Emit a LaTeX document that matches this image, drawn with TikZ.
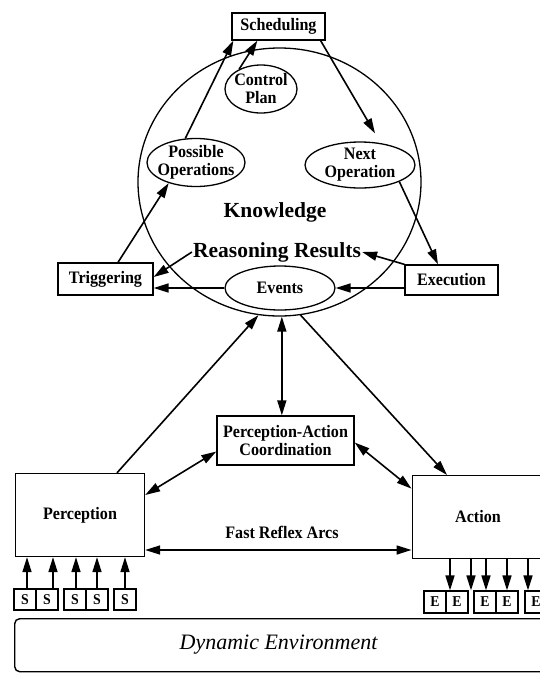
\documentclass[tikz,border=0pt]{standalone}
\usepackage{fontspec}
\setmainfont{Liberation Serif}
\newfontfamily\lblfont[FakeStretch=0.92]{Liberation Serif}
\usetikzlibrary{shapes.geometric,arrows.meta,calc}
\begin{document}
\begin{tikzpicture}[x=1pt,y=-1pt,
  lab/.style={font=\lblfont\fontsize{17.5}{18}\selectfont\bfseries, align=center},
  box/.style={draw, line width=1.3pt, lab, inner sep=0pt},
  oval/.style={draw, ellipse, line width=1.3pt, lab, inner sep=0pt},
  big/.style={font=\fontsize{21.5}{22}\selectfont\bfseries, inner sep=1pt},
  sbox/.style={draw, line width=1.2pt, minimum width=22pt, minimum height=21pt,
    inner sep=0pt, font=\lblfont\fontsize{15}{15}\selectfont\bfseries},
  bigtip/.tip={Triangle[length=15pt,width=9pt]},
  arr/.style={line width=1.6pt, -bigtip},
  darr/.style={line width=1.6pt, bigtip-bigtip}]
\useasboundingbox (0,0) rectangle (539,673);

% knowledge base circle and its contents
\node[draw, ellipse, line width=1.3pt, minimum width=283pt, minimum height=268pt,
  inner sep=0pt] (know) at (279.5,182) {};
\node[box, minimum width=93pt, minimum height=27pt] (sched) at (278.5,26.5) {Scheduling};
\node[oval, minimum width=72pt, minimum height=48pt, inner xsep=-4pt, inner ysep=-2pt] (control) at (261,89) {Control\\Plan};
\node[oval, minimum width=98pt, minimum height=48pt, inner xsep=-8pt, inner ysep=-2pt] (possops) at (196,162.5) {Possible\\Operations};
\node[oval, minimum width=110pt, minimum height=46pt, inner ysep=-2pt] (nextop) at (360,165) {Next\\Operation};
\node[big] (knowtxt) at (275,212) {Knowledge};
\node[big] (reason) at (277,252) {Reasoning Results};
\node[box, minimum width=95pt, minimum height=32pt] (trig) at (105.5,279) {Triggering};
\node[box, minimum width=93pt, minimum height=30pt] (exec) at (451.5,280) {Execution};
\node[oval, minimum width=110pt, minimum height=44pt] (events) at (280,288) {Events};

% control cycle
\draw[arr] ([xshift=12.5pt]trig.north) -- (possops.217);
\draw[arr] (possops.114) -- ([xshift=2pt]sched.south west);
\draw[arr] (control.138) -- ([xshift=26pt]sched.south west);
\draw[arr] ([xshift=-5pt]sched.south east) -- ([xshift=15pt,yshift=8pt]nextop.north);
\draw[arr] (nextop.337) -- ([xshift=-13.5pt]exec.north);
\draw[arr] (exec.north west) -- (reason.east);
\draw[arr] (reason.west) -- ([yshift=2pt]trig.east);
\draw[arr] (events.west) -- (events.west -| trig.east);
\draw[arr] (events.east -| exec.west) -- (events.east);

% lower level
\node[box, minimum width=137pt, minimum height=49pt] (pac) at (285.5,440.5) {Perception-Action\\Coordination};
\node[box, minimum width=129pt, minimum height=83pt] (percep) at (80,515) {Perception};
\node[draw, line width=1.3pt, anchor=north west, minimum width=150pt, minimum height=83pt,
  inner sep=0pt] (action) at (411.5,475) {};
\node[lab] (actiontxt) at (478,517) {Action};
\node[lab] (reflex) at (282,532) {Fast Reflex Arcs};

\draw[arr] ([xshift=37pt]percep.north) -- (know.261);
\draw[arr] (know.279) -- ([xshift=35.5pt]action.north west);
\draw[darr] (know.271) -- (know.271 |- pac.north);
\draw[darr] ([yshift=20pt]percep.east) -- ([yshift=-11pt]pac.west);
\draw[darr] ([yshift=-2pt]pac.east) -- ([yshift=28.5pt]action.west);
\coordinate (fr) at ([yshift=-35pt]percep.east);
\draw[darr] (fr) -- (fr -| action.west);

% sensors
\foreach \n/\x/\d in {1/25/2, 2/47/6, 3/75/1, 4/97/0, 5/125/0}{
  \node[sbox] (s\n) at (\x,599.5) {S};
  \path ($(s\n.north)+(\d,0)$) coordinate (sa\n);
  \draw[arr] (sa\n) -- (sa\n |- percep.south);
}
% effectors
\foreach \n/\x/\d in {1/435/15, 2/457/14, 3/485/1, 4/507/0, 5/536/-8}{
  \node[sbox, minimum height=22pt] (e\n) at (\x,602) {E};
  \path ($(e\n.north)+(\d,0)$) coordinate (ea\n);
  \draw[arr] (ea\n |- action.south) -- (ea\n);
}

% environment
\node[draw, rounded corners=5pt, line width=1.4pt, anchor=north west,
  minimum width=540pt, minimum height=53pt, inner sep=0pt] (env) at (14,618) {};
\node[font=\fontsize{22}{23}\selectfont\itshape] (envtxt) at (278.5,645) {Dynamic Environment};
\end{tikzpicture}
\end{document}
